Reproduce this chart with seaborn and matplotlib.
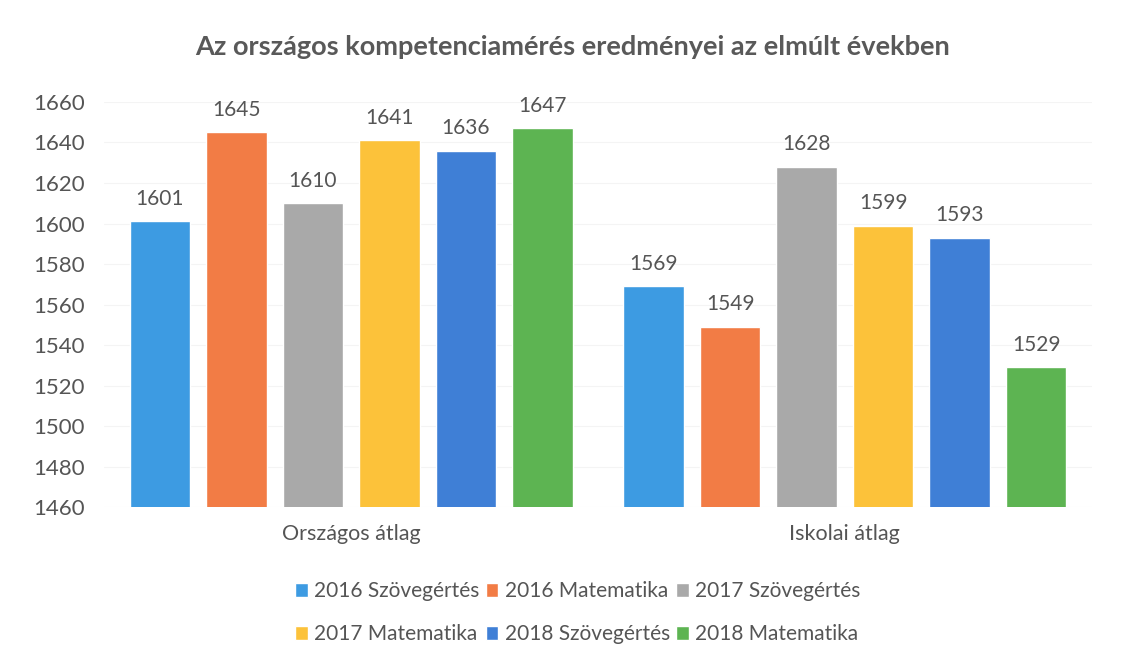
import matplotlib
matplotlib.use("Agg")
import matplotlib.pyplot as plt
import seaborn as sns
import pandas as pd
from matplotlib.patches import Patch

categories = ["Országos átlag", "Iskolai átlag"]
series = ["2016 Szövegértés", "2016 Matematika", "2017 Szövegértés",
          "2017 Matematika", "2018 Szövegértés", "2018 Matematika"]
orszagos = [1601, 1645, 1610, 1641, 1636, 1647]
iskolai = [1569, 1549, 1628, 1599, 1593, 1529]
colors = ["#3d9be2", "#f27c45", "#a9a9a9", "#fcc23a", "#3f7fd6", "#5db452"]

rows = []
for s, a, b in zip(series, orszagos, iskolai):
    rows.append({"cat": categories[0], "series": s, "value": a})
    rows.append({"cat": categories[1], "series": s, "value": b})
df = pd.DataFrame(rows)

sns.set_theme(style="white")
plt.rcParams["font.family"] = ["Lato", "DejaVu Sans"]

fig = plt.figure(figsize=(11.22, 6.64), dpi=100)
ax = fig.add_axes([0.093, 0.2364, 0.88, 0.61])

sns.barplot(data=df, x="cat", y="value", hue="series", order=categories,
            hue_order=series, palette=colors, width=0.93, gap=0.21,
            saturation=1, ax=ax, legend=False)

ax.set_ylim(1460, 1660)
ax.set_xlim(-0.5, 1.5)
ax.set_yticks(range(1460, 1661, 20))
ax.yaxis.grid(True, color="#f4f4f4", linewidth=0.8)
ax.set_axisbelow(True)
for sp in ax.spines.values():
    sp.set_visible(False)
ax.set_xlabel("")
ax.set_ylabel("")
ax.tick_params(axis="y", labelsize=16, colors="#555555", length=0, pad=14)
ax.tick_params(axis="x", labelsize=15.5, colors="#555555", length=0, pad=12)

for cont in ax.containers:
    ax.bar_label(cont, fmt="%d", padding=9, fontsize=15, color="#555555")

fig.suptitle("Az országos kompetenciamérés eredményei az elmúlt években",
             x=0.51, y=0.948, fontsize=19.5, fontweight="bold", color="#595959")

order = [0, 3, 1, 4, 2, 5]
handles = [Patch(facecolor=colors[i], label=series[i]) for i in order]
fig.legend(handles=handles, loc="center", bbox_to_anchor=(0.515, 0.077),
           ncol=3, frameon=False, fontsize=15, labelcolor="#555555",
           handlelength=0.6, handleheight=0.6, handletextpad=0.3,
           columnspacing=0.3, labelspacing=1.1)

fig.savefig("out.png", dpi=100)
